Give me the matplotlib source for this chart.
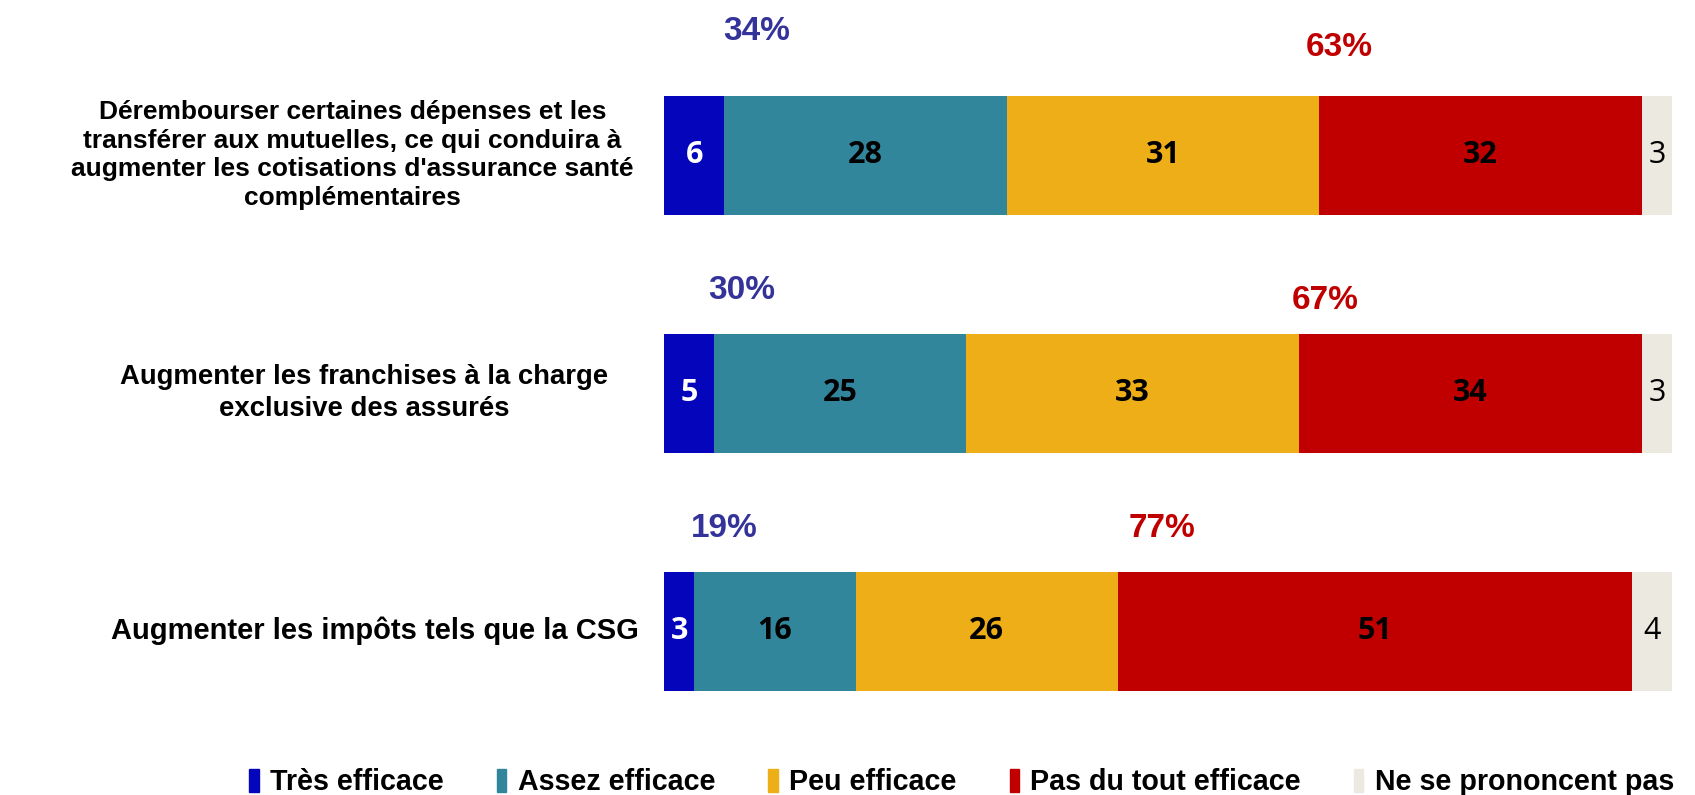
import matplotlib.pyplot as plt
from matplotlib.patches import Patch
import numpy as np

# data
categories = [
    "Dérembourser certaines dépenses et les\ntransférer aux mutuelles, ce qui conduira à\naugmenter les cotisations d'assurance santé\ncomplémentaires",
    "Augmenter les franchises à la charge\nexclusive des assurés",
    "Augmenter les impôts tels que la CSG",
]
series_names = ["Très efficace", "Assez efficace", "Peu efficace", "Pas du tout efficace", "Ne se prononcent pas"]
tres = [6, 5, 3]
assez = [28, 25, 16]
peu = [31, 33, 26]
pas = [32, 34, 51]
nsp = [3, 3, 4]
total_eff = [34, 30, 19]
total_ineff = [63, 67, 77]

colors = ["#0505BC", "#31869B", "#EDAE17", "#C00000", "#ECEAE0"]
txt_colors = ["white", "black", "black", "black", "black"]

fig = plt.figure(figsize=(16.95, 7.95), dpi=100)
ax = fig.add_axes([664 / 1695, 45 / 795, 1008 / 1695, 714 / 795])

series = [tres, assez, peu, pas, nsp]
y = np.arange(len(categories))
left = np.zeros(len(categories))
for i, vals in enumerate(series):
    vals = np.array(vals)
    ax.barh(y, vals, left=left, height=0.5, color=colors[i], label=series_names[i])
    for j in range(len(y)):
        ax.text(left[j] + vals[j] / 2, y[j], str(vals[j]), ha="center", va="center",
                color=txt_colors[i], fontsize=22, family="Open Sans",
                fontweight="normal" if i == 4 else "bold")
    left += vals

# totals above the bars
eff_x = [9.2, 7.7, 6.0]
eff_dy = [-0.52, -0.43, -0.43]
ineff_x = [67.0, 65.6, 49.4]
ineff_dy = [-0.45, -0.39, -0.43]
for j in range(len(y)):
    ax.text(eff_x[j], y[j] + eff_dy[j], f"{total_eff[j]}%", ha="center", va="center",
            color="#343399", fontsize=24, fontweight="bold", family="Liberation Sans")
    ax.text(ineff_x[j], y[j] + ineff_dy[j], f"{total_ineff[j]}%", ha="center", va="center",
            color="#C00000", fontsize=24, fontweight="bold", family="Liberation Sans")

# category labels
label_x = [-3, -5.5, -2.5]
label_size = [19, 19.8, 21]
for j, lab in enumerate(categories):
    ax.text(label_x[j], y[j], lab, ha="right", va="center", multialignment="center",
            fontsize=label_size[j], fontweight="bold", family="Liberation Sans", linespacing=1.25)

ax.set_xlim(0, 100)
ax.set_ylim(2.5, -0.5)
ax.axis("off")

handles = [Patch(color=c) for c in colors]
fig.legend(handles, series_names, loc="center left", bbox_to_anchor=(238 / 1695, 1 - 782 / 795),
           ncol=5, frameon=False, handlelength=0.33, handleheight=0.85, handletextpad=0.4,
           columnspacing=1.85, borderaxespad=0,
           prop={"family": "Liberation Sans", "weight": "bold", "size": 20.6})

plt.savefig("out.png", dpi=100)
